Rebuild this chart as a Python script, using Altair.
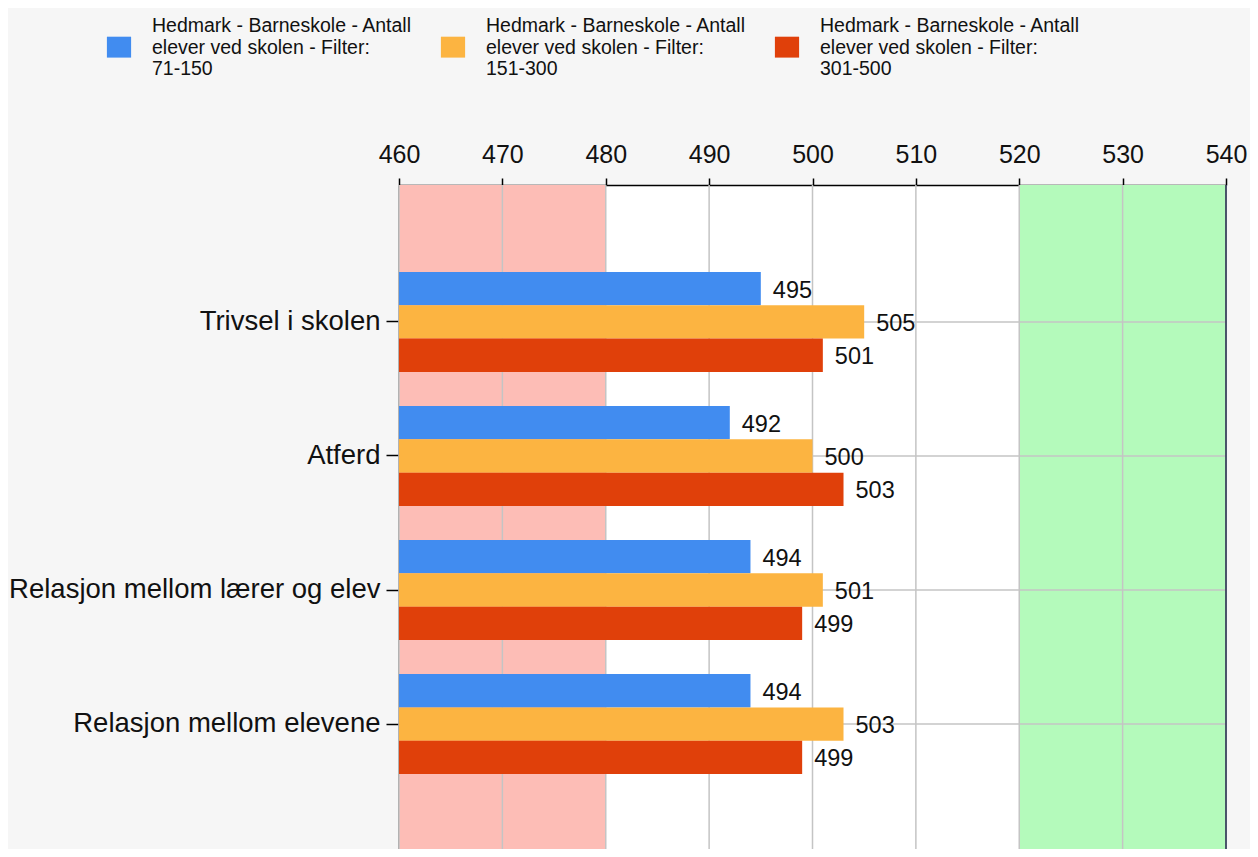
import altair as alt
import pandas as pd

categories = ["Trivsel i skolen", "Atferd", "Relasjon mellom lærer og elev", "Relasjon mellom elevene"]
series = [
    "Hedmark - Barneskole - Antall\nelever ved skolen - Filter:\n71-150",
    "Hedmark - Barneskole - Antall\nelever ved skolen - Filter:\n151-300",
    "Hedmark - Barneskole - Antall\nelever ved skolen - Filter:\n301-500",
]
values_71_150 = [495, 492, 494, 494]
values_151_300 = [505, 500, 501, 503]
values_301_500 = [501, 503, 499, 499]
colors = ["#418CF0", "#FCB441", "#E0400A"]

x_ticks = [460, 470, 480, 490, 500, 510, 520, 530, 540]
band_starts = [460, 520]
band_ends = [480, 540]
band_colors = ["#FDBDB6", "#B4FABB"]
x_min, x_max = 460, 540

rows = []
for s, vals in zip(series, [values_71_150, values_151_300, values_301_500]):
    for c, v in zip(categories, vals):
        rows.append({"category": c, "series": s, "value": v})
df = pd.DataFrame(rows)

bands_df = pd.DataFrame({"start": band_starts, "end": band_ends, "fill": band_colors})
ticks_df = pd.DataFrame({"x": x_ticks})
cat_df = pd.DataFrame({"category": categories})
edge_df = pd.DataFrame({"x": [x_max]})

FONT = "Liberation Sans"

x_scale = alt.Scale(domain=[x_min, x_max], nice=False, zero=False)
y_scale = alt.Scale(domain=categories, paddingInner=0.254, paddingOuter=0.604, align=0.537)

x_axis = alt.Axis(
    orient="top", values=x_ticks, grid=False, title=None,
    labelFontSize=25, labelFont=FONT, labelColor="#111111", labelFlush=False,
    tickSize=7, tickColor="#000000", domainColor="#000000",
    tickWidth=1.5, domainWidth=1.5, labelPadding=11,
)
y_axis = alt.Axis(
    title=None, labelFontSize=27.5, labelFont=FONT, labelColor="#111111",
    tickSize=13, tickColor="#000000", domainColor="#000000",
    tickWidth=1.5, domainWidth=2, labelPadding=6, labelLimit=500, grid=False,
)

bands = alt.Chart(bands_df).mark_rect().encode(
    x=alt.X("start:Q", scale=x_scale, axis=x_axis),
    x2="end:Q",
    color=alt.Color("fill:N", scale=None),
)

vgrid = alt.Chart(ticks_df).mark_rule(color="#c4c4c4", strokeWidth=1.5).encode(
    x=alt.X("x:Q", scale=x_scale, axis=x_axis),
)

hgrid = alt.Chart(cat_df).mark_rule(color="#c4c4c4", strokeWidth=1.5).encode(
    y=alt.Y("category:N", scale=y_scale, sort=categories, axis=y_axis),
)

edge = alt.Chart(edge_df).mark_rule(color="#1f2a4a", strokeWidth=1.5).encode(
    x=alt.X("x:Q", scale=x_scale, axis=x_axis),
)

yoff = alt.YOffset("series:N", sort=series, scale=alt.Scale(domain=series, paddingInner=0, paddingOuter=0))

bars = alt.Chart(df).mark_bar().encode(
    x=alt.X("value:Q", scale=x_scale, axis=x_axis),
    x2=alt.datum(x_min),
    y=alt.Y("category:N", scale=y_scale, sort=categories, axis=y_axis),
    yOffset=yoff,
    color=alt.Color(
        "series:N",
        sort=series,
        scale=alt.Scale(domain=series, range=colors),
        legend=alt.Legend(
            title=None, orient="none", legendX=-291, legendY=-170,
            direction="horizontal", columns=3, columnPadding=27,
            symbolType="M-1.1,0.95L1.1,0.95L1.1,2.85L-1.1,2.85Z",
            symbolSize=484, symbolStrokeWidth=0, symbolOpacity=1,
            labelFont=FONT, labelFontSize=19.5, labelColor="#111111",
            labelOffset=22, labelLimit=400,
            labelExpr="split(datum.label, '\\n')",
        ),
    ),
)

labels = alt.Chart(df).mark_text(
    align="left", baseline="middle", dx=12, dy=2, fontSize=23.5, font=FONT, color="#111111"
).encode(
    x=alt.X("value:Q", scale=x_scale, axis=x_axis),
    y=alt.Y("category:N", scale=y_scale, sort=categories, axis=y_axis),
    yOffset=yoff,
    text=alt.Text("value:Q"),
)

chart = alt.layer(bands, vgrid, hgrid, bars, labels, edge).properties(
    width=827,
    height=664,
    background="#f6f6f6",
    padding={"left": 391, "top": 177, "right": 24, "bottom": 0},
    autosize=alt.AutoSizeParams(type="none"),
).configure_view(fill="#ffffff", stroke=None)

chart.save("out.html", embed_options={"renderer": "svg", "actions": False})
